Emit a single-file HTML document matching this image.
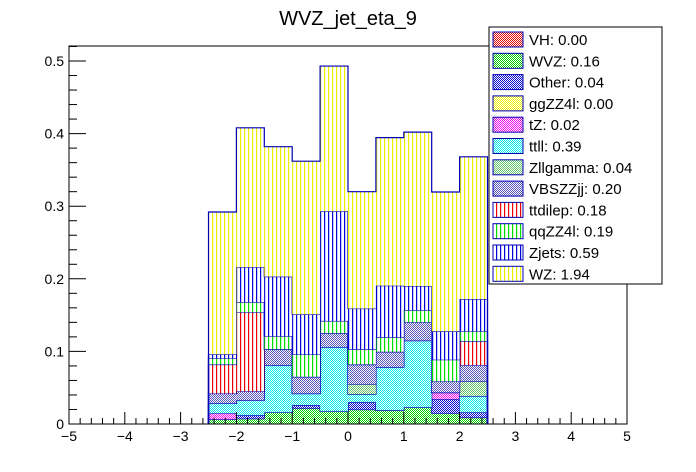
<!DOCTYPE html>
<html><head><meta charset="utf-8"><style>
body{margin:0;background:#fff;}
svg{display:block;font-family:"Liberation Sans",Arial,sans-serif;}
</style></head><body>
<svg id="c" width="696" height="472" xmlns="http://www.w3.org/2000/svg">
<defs>
<pattern id="chk-green" width="2" height="2" patternUnits="userSpaceOnUse"><rect width="2" height="2" fill="#fff"/><rect width="1" height="1" fill="#00cc00"/><rect x="1" y="1" width="1" height="1" fill="#00cc00"/></pattern>
<pattern id="chk-blue" width="2" height="2" patternUnits="userSpaceOnUse"><rect width="2" height="2" fill="#fff"/><rect width="1" height="1" fill="#0000cc"/><rect x="1" y="1" width="1" height="1" fill="#0000cc"/></pattern>
<pattern id="chk-red" width="2" height="2" patternUnits="userSpaceOnUse"><rect width="2" height="2" fill="#fff"/><rect width="1" height="1" fill="#e00000"/><rect x="1" y="1" width="1" height="1" fill="#e00000"/></pattern>
<pattern id="chk-yellow" width="2" height="2" patternUnits="userSpaceOnUse"><rect width="2" height="2" fill="#fff"/><rect width="1" height="1" fill="#eeee00"/><rect x="1" y="1" width="1" height="1" fill="#eeee00"/></pattern>
<pattern id="chk-magenta" width="2" height="2" patternUnits="userSpaceOnUse"><rect width="2" height="2" fill="#fff"/><rect width="1" height="1" fill="#ee00ee"/><rect x="1" y="1" width="1" height="1" fill="#ee00ee"/></pattern>
<pattern id="chk-cyan" width="2" height="2" patternUnits="userSpaceOnUse"><rect width="2" height="2" fill="#fff"/><rect width="1" height="1" fill="#00e8e8"/><rect x="1" y="1" width="1" height="1" fill="#00e8e8"/></pattern>
<pattern id="chk-olive" width="2" height="2" patternUnits="userSpaceOnUse"><rect width="2" height="2" fill="#fff"/><rect width="1" height="1" fill="#66c066"/><rect x="1" y="1" width="1" height="1" fill="#66c066"/></pattern>
<pattern id="chk-slate" width="2" height="2" patternUnits="userSpaceOnUse"><rect width="2" height="2" fill="#fff"/><rect width="1" height="1" fill="#5555bb"/><rect x="1" y="1" width="1" height="1" fill="#5555bb"/></pattern>
<pattern id="vh-red" width="4" height="4" patternUnits="userSpaceOnUse"><rect width="4" height="4" fill="#fff"/><rect width="1.2" height="4" fill="#ee0000"/></pattern>
<pattern id="vh-green" width="4" height="4" patternUnits="userSpaceOnUse"><rect width="4" height="4" fill="#fff"/><rect width="1.2" height="4" fill="#00dd00"/></pattern>
<pattern id="vh-blue" width="4" height="4" patternUnits="userSpaceOnUse"><rect width="4" height="4" fill="#fff"/><rect width="1.2" height="4" fill="#0000dd"/></pattern>
<pattern id="vh-yellow" width="4" height="4" patternUnits="userSpaceOnUse"><rect width="4" height="4" fill="#fff"/><rect width="1.2" height="4" fill="#eeee00"/></pattern>
</defs>
<text x="348" y="25" text-anchor="middle" font-size="20">WVZ_jet_eta_9</text>
<g id="bars"></g>
<g id="axes"></g>
<g id="legend"></g>
</svg>
<script>
const binEdges = [-2.5,-2,-1.5,-1,-0.5,0,0.5,1,1.5,2,2.5];
const processes = ["VH","WVZ","Other","ggZZ4l","tZ","ttll","Zllgamma","VBSZZjj","ttdilep","qqZZ4l","Zjets","WZ"];
const legendValues = ["0.00","0.16","0.04","0.00","0.02","0.39","0.04","0.20","0.18","0.19","0.59","1.94"];
const fills = ["chk-red","chk-green","chk-blue","chk-yellow","chk-magenta","chk-cyan","chk-olive","chk-slate","vh-red","vh-green","vh-blue","vh-yellow"];
const vVH      = [0,0,0,0,0,0,0,0,0,0];
const vWVZ     = [0.0064,0.0073,0.016,0.0216,0.0174,0.020,0.019,0.023,0.0147,0.009];
const vOther   = [0,0.0047,0,0.0044,0,0.010,0,0,0.0197,0.007];
const vggZZ4l  = [0,0,0,0,0,0,0,0,0,0];
const vtZ      = [0.0083,0,0,0,0,0,0,0,0.009,0];
const vttll    = [0.0138,0.0206,0.065,0.016,0.0886,0.011,0.0595,0.092,0,0.0226];
const vZllgamma= [0,0,0,0,0,0.014,0,0,0,0.0204];
const vVBSZZjj = [0.0135,0.0124,0.022,0.023,0.019,0.027,0.021,0.025,0.0152,0.022];
const vttdilep = [0.040,0.109,0,0,0,0,0,0,0,0.033];
const vqqZZ4l  = [0.0085,0.014,0.018,0.031,0.017,0.021,0.020,0.017,0.030,0.014];
const vZjets   = [0.0055,0.048,0.082,0.055,0.151,0.056,0.071,0.033,0.039,0.044];
const vWZ      = [0.196,0.192,0.179,0.211,0.200,0.161,0.204,0.212,0.192,0.196];
const series = [vVH,vWVZ,vOther,vggZZ4l,vtZ,vttll,vZllgamma,vVBSZZjj,vttdilep,vqqZZ4l,vZjets,vWZ];
const xTicks = [-5,-4,-3,-2,-1,0,1,2,3,4,5];
const yTicks = [0,0.1,0.2,0.3,0.4,0.5];

const X0=69,X1=627,Y0=424,YT=46;
const xs = v => X0 + (v+5)/10*(X1-X0);
const ys = v => Y0 - v*726;
const NS="http://www.w3.org/2000/svg";
function mk(tag, attrs, parent){const e=document.createElementNS(NS,tag);for(const k in attrs)e.setAttribute(k,attrs[k]);parent.appendChild(e);return e;}

const bars=document.getElementById('bars');
let cum = new Array(10).fill(0);
series.forEach((vals,pi)=>{
  const g=mk('g',{},bars);
  
  
  const lo=cum.slice(); const hi=cum.map((c,i)=>c+vals[i]);
  for(let i=0;i<10;i++){
    if(vals[i]<=0) continue;
    const r=mk('rect',{x:xs(binEdges[i]),y:ys(hi[i]),width:xs(binEdges[i+1])-xs(binEdges[i]),height:ys(lo[i])-ys(hi[i]),fill:'url(#'+fills[pi]+')'},g);
    
    
  }
  if(vals.some(v=>v>0)){
    let d='M'+xs(binEdges[0])+','+ys(0);
    for(let i=0;i<10;i++){d+=' L'+xs(binEdges[i])+','+ys(hi[i])+' L'+xs(binEdges[i+1])+','+ys(hi[i]);}
    d+=' L'+xs(binEdges[10])+','+ys(0);
    const p=mk('path',{d:d,fill:'none',stroke:'#0000b4','stroke-width':1.2},g);
    
    
  }
  cum=hi;
});

const ax=document.getElementById('axes');
mk('rect',{x:X0,y:YT,width:X1-X0,height:Y0-YT,fill:'none',stroke:'#000','stroke-width':1},ax);
for(let k=0;k<=50;k++){
  const v=-5+k*0.2, x=xs(v), major=(k%5===0);
  mk('line',{x1:x,x2:x,y1:Y0,y2:Y0-(major?12:6),stroke:'#000','stroke-width':1},ax);
}
xTicks.forEach(v=>{
  const t=mk('text',{x:xs(v),y:Y0+17,'text-anchor':'middle','font-size':14},ax);
  t.textContent=(v<0?'\u2212'+(-v):String(v));
  
  
});
for(let k=0;k<=26;k++){
  const v=k*0.02, y=ys(v); if(y<YT) break; const major=(k%5===0);
  mk('line',{x1:X0,x2:X0+(major?17:8),y1:y,y2:y,stroke:'#000','stroke-width':1},ax);
}
yTicks.forEach(v=>{
  const t=mk('text',{x:X0-5,y:ys(v)+5,'text-anchor':'end','font-size':14},ax);
  t.textContent=(v===0?'0':v.toFixed(1));
  
  
});

const lg=document.getElementById('legend');
mk('rect',{x:489,y:27,width:173,height:257,fill:'#fff',stroke:'#000','stroke-width':1},lg);
processes.forEach((p,i)=>{
  const y=30+i*21.3;
  const r=mk('rect',{x:493,y:y+2,width:30,height:15,fill:'url(#'+fills[i]+')',stroke:'#0000b4','stroke-width':1},lg);
  
  
  const t=mk('text',{x:529,y:y+15,'font-size':15},lg);
  t.textContent=p+': '+legendValues[i];
  
  
});
</script>
</body></html>
